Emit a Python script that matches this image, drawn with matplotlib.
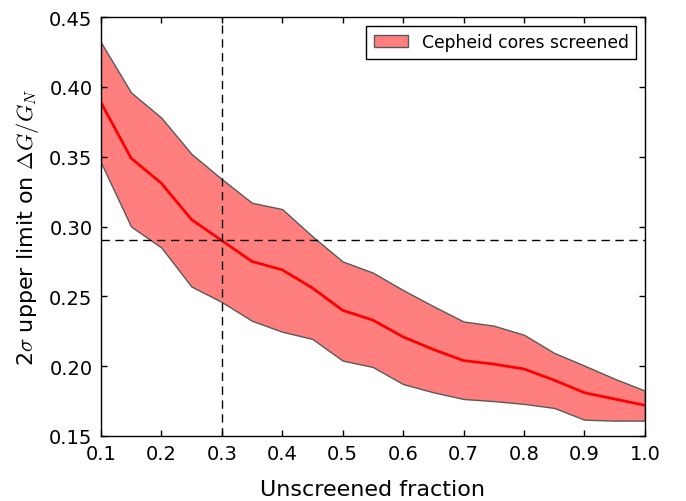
import matplotlib
matplotlib.use("Agg")
import matplotlib.pyplot as plt
import numpy as np

plt.rcParams['mathtext.fontset'] = 'cm'

frac = [0.1, 0.15, 0.2, 0.25, 0.3, 0.35, 0.4, 0.45, 0.5, 0.55, 0.6, 0.65, 0.7, 0.75, 0.8, 0.85, 0.9, 0.95, 1.0]
median = [0.389, 0.349, 0.331, 0.305, 0.290, 0.275, 0.269, 0.256, 0.240, 0.233, 0.221, 0.212, 0.204, 0.2015, 0.198, 0.190, 0.181, 0.1765, 0.172]
upper = [0.432, 0.396, 0.378, 0.352, 0.334, 0.317, 0.3125, 0.293, 0.275, 0.267, 0.2545, 0.243, 0.232, 0.229, 0.2225, 0.2095, 0.2004, 0.191, 0.1825]
lower = [0.346, 0.300, 0.285, 0.257, 0.246, 0.2325, 0.2247, 0.2195, 0.204, 0.1994, 0.1872, 0.1813, 0.1765, 0.175, 0.173, 0.1701, 0.1617, 0.161, 0.161]

x_cut = 0.3
y_cut = 0.29

fig = plt.figure(figsize=(6.86, 5.02), dpi=100)
ax = fig.add_axes([0.147, 0.1295, 0.793, 0.8345])

ax.fill_between(frac, lower, upper, facecolor=(1, 0, 0, 0.5), edgecolor='0.35', linewidth=1,
                label='Cepheid cores screened')
ax.plot(frac, median, color='red', linewidth=2)
ax.axvline(x_cut, color='black', linestyle='--', linewidth=1, dashes=(6, 4))
ax.axhline(y_cut, color='black', linestyle='--', linewidth=1, dashes=(6, 4))

ax.set_xlim(0.1, 1.0)
ax.set_ylim(0.15, 0.45)
ax.set_xticks(np.arange(0.1, 1.01, 0.1))
ax.set_yticks(np.arange(0.15, 0.451, 0.05))
ax.tick_params(direction='in', top=True, right=True, length=4, width=1, labelsize=14, pad=6)
for s in ax.spines.values():
    s.set_linewidth(1)

ax.set_xlabel('Unscreened fraction', fontsize=16, labelpad=11)
ax.set_ylabel(r'2$\sigma$ upper limit on $\Delta G/G_N$', fontsize=16, labelpad=6)

leg = ax.legend(loc='upper right', fontsize=12.3, fancybox=False, framealpha=1, edgecolor='black',
                handlelength=2.0, borderpad=0.45)
leg.get_frame().set_linewidth(1)

fig.savefig('out.png', dpi=100)
